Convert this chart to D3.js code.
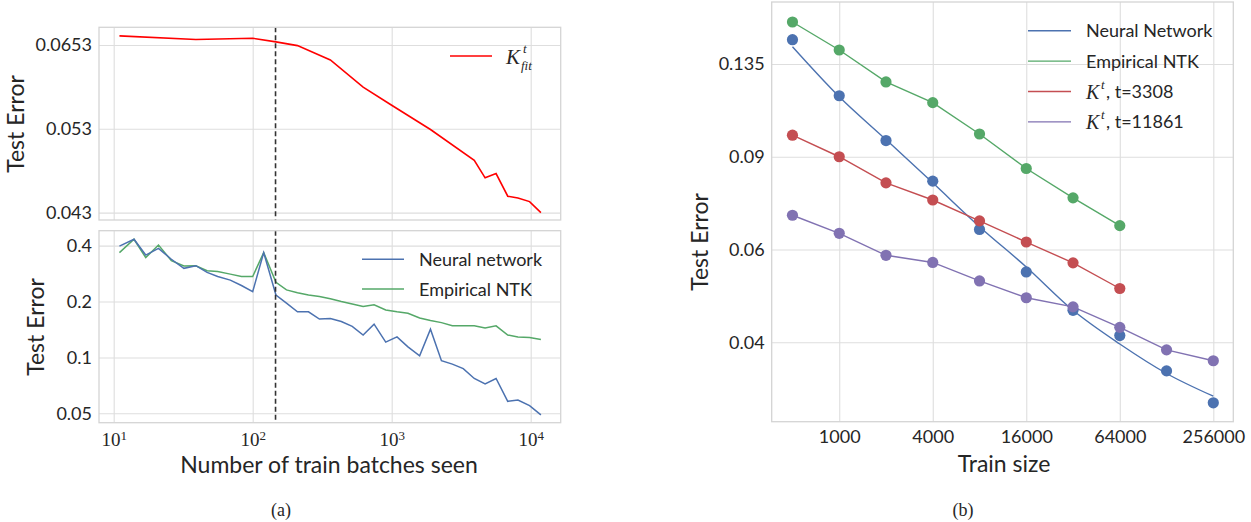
<!DOCTYPE html>
<html>
<head>
<meta charset="utf-8">
<script src="https://cdn.jsdelivr.net/npm/d3@7"></script>
<style>
body { margin: 0; background: #fff; }
text { font-family: Lato, "DejaVu Sans", sans-serif; fill: #262626; }
.serif { font-family: "Liberation Serif", "DejaVu Serif", serif; }
</style>
</head>
<body>
<div id="container"></div>
<script>
/* DATA - panel (a) */
const batches = [11, 14, 17, 21, 26, 32, 39, 47, 56, 69, 83, 100, 120, 147, 175, 210, 252, 302, 362, 434,
  520, 623, 747, 906, 1092, 1309, 1589, 1901, 2280, 2731, 3272, 3927, 4700, 5636, 6838, 8095, 9816, 11840];
const nnError = [0.398, 0.433, 0.356, 0.387, 0.338, 0.302, 0.312, 0.287, 0.273, 0.261, 0.244, 0.226, 0.367, 0.217,
  0.196, 0.176, 0.176, 0.161, 0.162, 0.156, 0.147, 0.132, 0.151, 0.121, 0.129, 0.114, 0.102, 0.142, 0.096, 0.092,
  0.087, 0.077, 0.072, 0.077, 0.058, 0.059, 0.055, 0.049];
const ntkError = [0.367, 0.433, 0.345, 0.403, 0.332, 0.311, 0.312, 0.293, 0.290, 0.281, 0.273, 0.273, 0.367, 0.254,
  0.231, 0.223, 0.217, 0.213, 0.207, 0.200, 0.194, 0.188, 0.192, 0.180, 0.176, 0.173, 0.163, 0.158, 0.154, 0.148,
  0.148, 0.148, 0.144, 0.148, 0.132, 0.129, 0.128, 0.125];
const fitBatches = [11, 39, 100, 147, 210, 362, 623, 1000, 1901, 3927, 4700, 5636, 6838, 8095, 9816, 11840];
const fitError = [0.0668, 0.0662, 0.0664, 0.0658, 0.0652, 0.0629, 0.0588, 0.0562, 0.0529, 0.0490, 0.0469, 0.0474,
  0.0448, 0.0446, 0.0442, 0.0430];
const dashedAt = 146;
const batchTicks = [10, 100, 1000, 10000];
const topTicks = [0.0653, 0.053, 0.043];
const bottomTicks = [0.4, 0.2, 0.1, 0.05];

/* DATA - panel (b) */
const trainSizes = [500, 1000, 2000, 4000, 8000, 16000, 32000, 64000, 128000, 256000];
const nnPts = [0.1501, 0.1175, 0.0966, 0.0809, 0.0655, 0.0544, 0.0460, 0.0412, 0.0353, 0.0307];
const nnFit = [0.1456, 0.1170, 0.0970, 0.0803, 0.0663, 0.0556, 0.0460, 0.0397, 0.0349, 0.0316];
const ntkPts = [0.1622, 0.1435, 0.1248, 0.1140, 0.0994, 0.0855, 0.0752, 0.0666];
const k3308Pts = [0.0989, 0.0900, 0.0803, 0.0745, 0.0680, 0.0620, 0.0566, 0.0506];
const k11861Pts = [0.0697, 0.0644, 0.0585, 0.0567, 0.0523, 0.0486, 0.0467, 0.0427, 0.0387, 0.0369];
const sizeTicks = [1000, 4000, 16000, 64000, 256000];
const errTicks = [0.135, 0.09, 0.06, 0.04];

/* COLORS */
const gridColor = "#dedede",
  frameColor = "#d4d4d4",
  blue = "#4c72b0", green = "#55a868", red = "#c44e52", purple = "#8172b2";

const svg = d3.select("#container").append("svg")
  .attr("width", 1251)
  .attr("height", 522);

// panel (a) scales
const xA = d3.scaleLog().domain([7.84, 16440]).range([99, 560.7]);
const yTop = d3.scaleLog().domain([0.04222, 0.06824]).range([220, 27.3]);
const yBot = d3.scaleLog().domain([0.0445, 0.4816]).range([422.7, 230.7]);

// panel (b) scales
const xB = d3.scaleLog().base(2).domain([367.5, 344300]).range([771.7, 1233.3]);
const yB = d3.scaleLog().domain([0.02827, 0.177]).range([421.7, 2]);

function grid(xs, ys, xt, yt) {
  const [x0, x1] = xs.range(), [y1, y0] = ys.range();
  svg.append("g").attr("transform", `translate(0,${y1})`)
    .call(d3.axisBottom(xs).tickValues(xt).tickSize(-(y1 - y0)).tickFormat(""))
    .call(g => g.select(".domain").remove())
    .selectAll("line").attr("stroke", gridColor).attr("stroke-width", 1.1);
  svg.append("g").attr("transform", `translate(${x0},0)`)
    .call(d3.axisLeft(ys).tickValues(yt).tickSize(-(x1 - x0)).tickFormat(""))
    .call(g => g.select(".domain").remove())
    .selectAll("line").attr("stroke", gridColor).attr("stroke-width", 1.1);
}

function frame(xs, ys) {
  const [x0, x1] = xs.range(), [y1, y0] = ys.range();
  svg.append("rect").attr("x", x0).attr("y", y0)
    .attr("width", x1 - x0).attr("height", y1 - y0)
    .attr("fill", "none").attr("stroke", frameColor).attr("stroke-width", 1.3);
}

function yLabels(xs, ys, yt, fmt) {
  svg.append("g").attr("transform", `translate(${xs.range()[0]},0)`)
    .call(d3.axisLeft(ys).tickValues(yt).tickSize(0).tickPadding(7).tickFormat(fmt))
    .call(g => g.select(".domain").remove())
    .selectAll("text").style("font-size", "18px").attr("fill", "#262626");
}

/* PANEL (a) top */
grid(xA, yTop, batchTicks, topTicks);
svg.append("path").datum(fitBatches.map((b, i) => [b, fitError[i]]))
  .attr("fill", "none").attr("stroke", "#ff0000").attr("stroke-width", 1.6)
  .attr("d", d3.line().x(d => xA(d[0])).y(d => yTop(d[1])));
svg.append("line").attr("x1", xA(dashedAt)).attr("x2", xA(dashedAt))
  .attr("y1", yTop.range()[1]).attr("y2", yTop.range()[0])
  .attr("stroke", "#333").attr("stroke-width", 1.6).attr("stroke-dasharray", "5,3");
frame(xA, yTop);
yLabels(xA, yTop, topTicks, d => String(d));

/* PANEL (a) bottom */
grid(xA, yBot, batchTicks, bottomTicks);
const lineA = d3.line().x(d => xA(d[0])).y(d => yBot(d[1]));
svg.append("path").datum(batches.map((b, i) => [b, ntkError[i]]))
  .attr("fill", "none").attr("stroke", green).attr("stroke-width", 1.5).attr("d", lineA);
svg.append("path").datum(batches.map((b, i) => [b, nnError[i]]))
  .attr("fill", "none").attr("stroke", blue).attr("stroke-width", 1.5).attr("d", lineA);
svg.append("line").attr("x1", xA(dashedAt)).attr("x2", xA(dashedAt))
  .attr("y1", yBot.range()[1]).attr("y2", yBot.range()[0])
  .attr("stroke", "#333").attr("stroke-width", 1.6).attr("stroke-dasharray", "5,3");
frame(xA, yBot);
yLabels(xA, yBot, bottomTicks, d => String(d));

// x ticks as powers of ten
svg.append("g").attr("transform", `translate(0,${yBot.range()[0]})`)
  .call(d3.axisBottom(xA).tickValues(batchTicks).tickSize(0).tickPadding(10).tickFormat(""))
  .call(g => g.select(".domain").remove())
  .selectAll(".tick text").each(function(d) {
    const t = d3.select(this).attr("class", "serif").style("font-size", "19px");
    t.append("tspan").text("10");
    t.append("tspan").attr("dy", "-0.45em").style("font-size", "13px").text(Math.round(Math.log10(d)));
  });

// titles (a)
svg.append("text").attr("transform", "translate(24,124) rotate(-90)")
  .attr("text-anchor", "middle").style("font-size", "23px").text("Test Error");
svg.append("text").attr("transform", "translate(44,327) rotate(-90)")
  .attr("text-anchor", "middle").style("font-size", "23px").text("Test Error");
svg.append("text").attr("x", 329).attr("y", 473)
  .attr("text-anchor", "middle").style("font-size", "23px").text("Number of train batches seen");

// legend (a) top
svg.append("line").attr("x1", 450).attr("x2", 492).attr("y1", 56).attr("y2", 56)
  .attr("stroke", "#ff0000").attr("stroke-width", 1.6);
svg.append("text").attr("class", "serif").attr("x", 506).attr("y", 64)
  .style("font-size", "21px").style("font-style", "italic").text("K");
svg.append("text").attr("class", "serif").attr("x", 523).attr("y", 53)
  .style("font-size", "13px").style("font-style", "italic").text("t");
svg.append("text").attr("class", "serif").attr("x", 521).attr("y", 70)
  .style("font-size", "13px").style("font-style", "italic").text("fit");

// legend (a) bottom
[["Neural network", blue], ["Empirical NTK", green]].forEach(([name, c], i) => {
  const y = 259.3 + i * 29.7;
  svg.append("line").attr("x1", 362).attr("x2", 404).attr("y1", y).attr("y2", y)
    .attr("stroke", c).attr("stroke-width", 1.5);
  svg.append("text").attr("x", 419).attr("y", y + 6.5).style("font-size", "18px").text(name);
});

/* PANEL (b) */
grid(xB, yB, sizeTicks, errTicks);
const seriesB = [
  { pts: ntkPts, line: ntkPts, color: green },
  { pts: nnPts, line: nnFit, color: blue, curve: true },
  { pts: k3308Pts, line: k3308Pts, color: red },
  { pts: k11861Pts, line: k11861Pts, color: purple }
];
seriesB.forEach(s => {
  const gen = d3.line().x(d => xB(d[0])).y(d => yB(d[1]));
  if (s.curve) gen.curve(d3.curveMonotoneX);
  svg.append("path").datum(s.line.map((v, i) => [trainSizes[i], v]))
    .attr("fill", "none").attr("stroke", s.color).attr("stroke-width", 1.4)
    .attr("d", gen);
});
seriesB.forEach(s => {
  svg.append("g").selectAll("circle")
    .data(s.pts.map((v, i) => [trainSizes[i], v]))
    .join("circle")
    .attr("cx", d => xB(d[0])).attr("cy", d => yB(d[1]))
    .attr("r", 5.6).attr("fill", s.color);
});
frame(xB, yB);
yLabels(xB, yB, errTicks, d => String(d));
svg.append("g").attr("transform", `translate(0,${yB.range()[0]})`)
  .call(d3.axisBottom(xB).tickValues(sizeTicks).tickSize(0).tickPadding(9).tickFormat(d3.format("d")))
  .call(g => g.select(".domain").remove())
  .selectAll("text").style("font-size", "18px").attr("fill", "#262626");

svg.append("text").attr("transform", "translate(708,242) rotate(-90)")
  .attr("text-anchor", "middle").style("font-size", "23px").text("Test Error");
svg.append("text").attr("x", 1004).attr("y", 472)
  .attr("text-anchor", "middle").style("font-size", "23px").text("Train size");

// legend (b)
const legB = [
  { label: "Neural Network", color: blue },
  { label: "Empirical NTK", color: green },
  { k: true, label: ", t=3308", color: red },
  { k: true, label: ", t=11861", color: purple }
];
legB.forEach((d, i) => {
  const y = 30.7 + i * 30.4;
  svg.append("line").attr("x1", 1028).attr("x2", 1071).attr("y1", y).attr("y2", y)
    .attr("stroke", d.color).attr("stroke-width", 1.4);
  if (d.k) {
    svg.append("text").attr("class", "serif").attr("x", 1086).attr("y", y + 7)
      .style("font-size", "20px").style("font-style", "italic").text("K");
    svg.append("text").attr("class", "serif").attr("x", 1101).attr("y", y - 3)
      .style("font-size", "13px").style("font-style", "italic").text("t");
    svg.append("text").attr("x", 1106).attr("y", y + 6.5).style("font-size", "18px").text(d.label);
  } else {
    svg.append("text").attr("x", 1086).attr("y", y + 6.5).style("font-size", "18px").text(d.label);
  }
});

/* CAPTIONS */
svg.append("text").attr("class", "serif").attr("x", 281).attr("y", 516)
  .attr("text-anchor", "middle").style("font-size", "18px").text("(a)");
svg.append("text").attr("class", "serif").attr("x", 963).attr("y", 516)
  .attr("text-anchor", "middle").style("font-size", "18px").text("(b)");
</script>
</body>
</html>
